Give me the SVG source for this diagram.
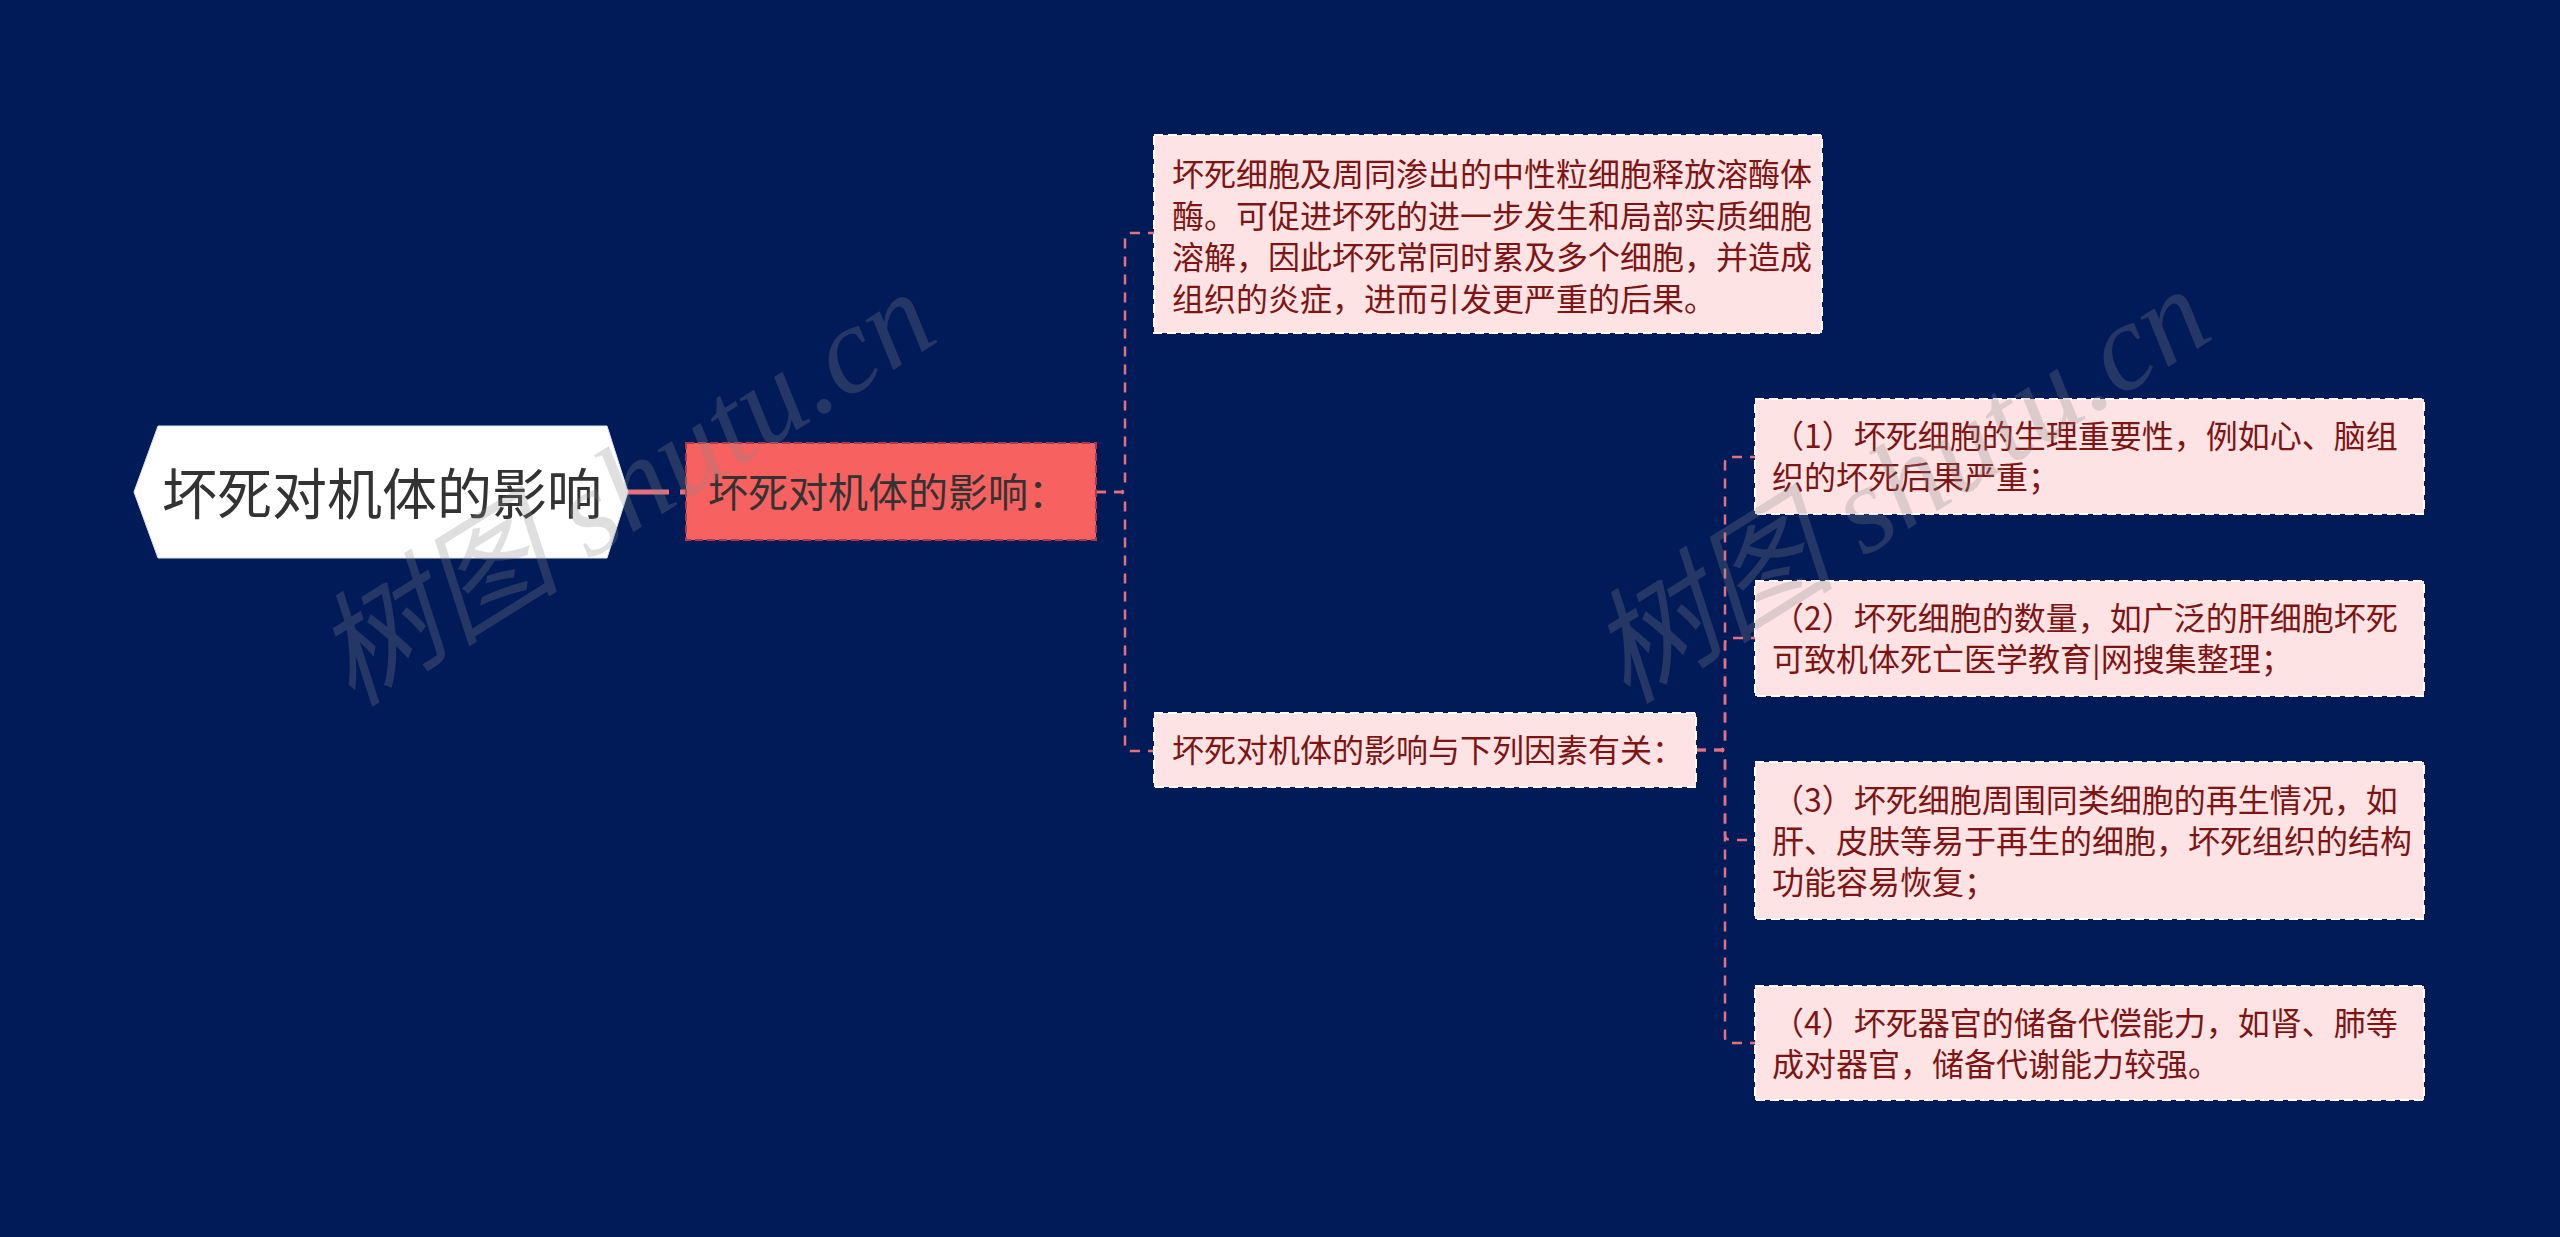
<svg xmlns="http://www.w3.org/2000/svg" width="2560" height="1237" viewBox="0 0 2560 1237">
<style>
.bg{fill:#011B58}
.conn{fill:none;stroke:#E5707D;stroke-width:2.5;stroke-dasharray:10 8}
.box{fill:#FDE3E3;stroke:#FFFFFF;stroke-width:2;stroke-dasharray:9 5}
.txt{font-family:"Noto Sans CJK SC","Noto Sans",sans-serif;font-size:32px;fill:#7F1414}
.wm{font-family:"Liberation Serif","Noto Sans CJK SC",serif;font-size:124px;font-style:italic;fill:#8A8A8A;fill-opacity:0.27}
</style>
<rect class="bg" x="0" y="0" width="2560" height="1237"/>
<g id="connectors">
<line x1="628" y1="492" x2="686" y2="492" stroke="#E5707D" stroke-width="5" stroke-dasharray="41 11 6 100"/>
<path class="conn" d="M1096,492 H1119 Q1125,492 1125,486 V239 Q1125,233 1131,233 H1154"/>
<path class="conn" d="M1096,492 H1119 Q1125,492 1125,498 V745 Q1125,751 1131,751 H1154"/>
<path class="conn" d="M1696,750 H1719 Q1725,750 1725,744 V463 Q1725,457 1731,457 H1755"/>
<path class="conn" d="M1696,750 H1719 Q1725,750 1725,744 V644 Q1725,638 1731,638 H1755"/>
<path class="conn" d="M1696,750 H1719 Q1725,750 1725,756 V834 Q1725,840 1731,840 H1755"/>
<path class="conn" d="M1696,750 H1719 Q1725,750 1725,756 V1037 Q1725,1043 1731,1043 H1755"/>
</g>
<g id="root">
<polygon points="134,492 158,426 607,426 628,492 607,558 158,558" fill="#FFFFFF" stroke="#DDE3F0" stroke-width="1"/>
<text x="162" y="514" font-family="Noto Sans CJK SC,sans-serif" font-size="55" fill="#333333">坏死对机体的影响</text>
</g>
<g id="n1">
<rect x="686" y="443" width="410" height="97" fill="#F7615F" stroke="#A83A4A" stroke-width="2" stroke-dasharray="8 4"/>
<text x="708" y="507" font-family="Noto Sans CJK SC,sans-serif" font-size="40" fill="#333333">坏死对机体的影响：</text>
</g>
<g id="c1">
<rect class="box" x="1154" y="135" width="668" height="198"/>
<text class="txt" x="1172" y="186">坏死细胞及周同渗出的中性粒细胞释放溶酶体</text>
<text class="txt" x="1172" y="227.5">酶。可促进坏死的进一步发生和局部实质细胞</text>
<text class="txt" x="1172" y="269">溶解，因此坏死常同时累及多个细胞，并造成</text>
<text class="txt" x="1172" y="310.5">组织的炎症，进而引发更严重的后果。</text>
</g>
<g id="c2">
<rect class="box" x="1154" y="713" width="542" height="74"/>
<text class="txt" x="1172" y="762">坏死对机体的影响与下列因素有关：</text>
</g>
<g id="g1">
<rect class="box" x="1755" y="399" width="669" height="115"/>
<text class="txt" x="1772" y="448">（1）坏死细胞的生理重要性，例如心、脑组</text>
<text class="txt" x="1772" y="489">织的坏死后果严重；</text>
</g>
<g id="g2">
<rect class="box" x="1755" y="581" width="669" height="115"/>
<text class="txt" x="1772" y="630">（2）坏死细胞的数量，如广泛的肝细胞坏死</text>
<text class="txt" x="1772" y="671">可致机体死亡医学教育|网搜集整理；</text>
</g>
<g id="g3">
<rect class="box" x="1755" y="762" width="669" height="157"/>
<text class="txt" x="1772" y="812">（3）坏死细胞周围同类细胞的再生情况，如</text>
<text class="txt" x="1772" y="853">肝、皮肤等易于再生的细胞，坏死组织的结构</text>
<text class="txt" x="1772" y="894">功能容易恢复；</text>
</g>
<g id="g4">
<rect class="box" x="1755" y="986" width="669" height="114"/>
<text class="txt" x="1772" y="1035">（4）坏死器官的储备代偿能力，如肾、肺等</text>
<text class="txt" x="1772" y="1076">成对器官，储备代谢能力较强。</text>
</g>
<g id="watermarks">
<text class="wm" transform="translate(352,708) rotate(-32)">树图 shutu.cn</text>
<text class="wm" transform="translate(1627,705) rotate(-32)">树图 shutu.cn</text>
</g>
</svg>
